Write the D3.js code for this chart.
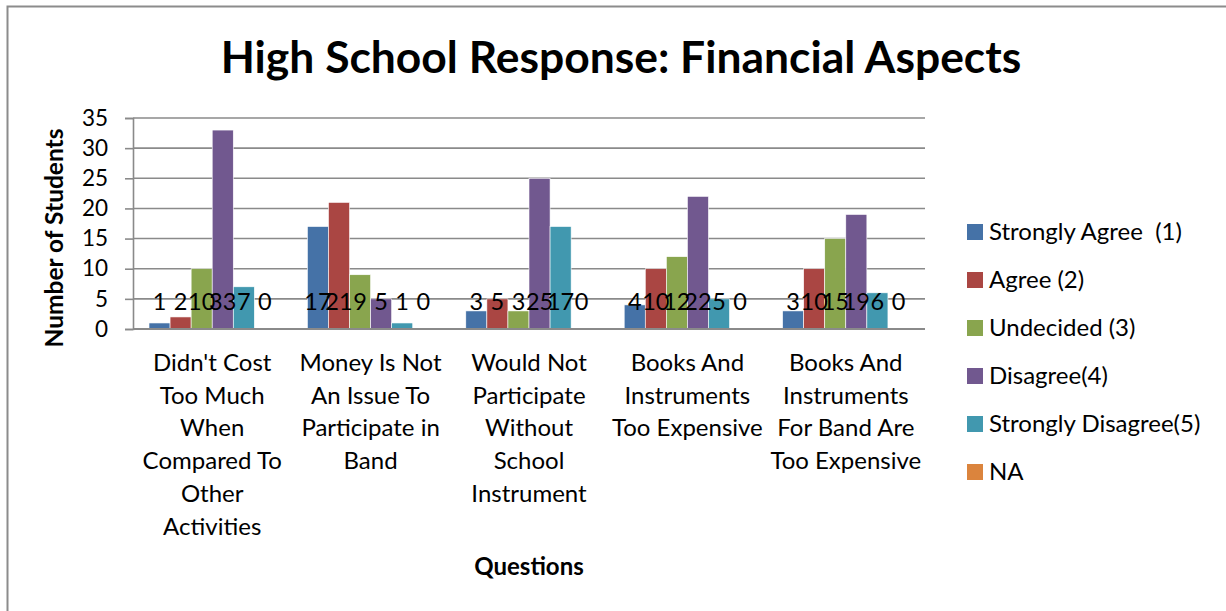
<!DOCTYPE html>
<html>
<head>
<meta charset="utf-8">
<script src="https://cdn.jsdelivr.net/npm/d3@7/dist/d3.min.js"></script>
<style>
  html, body { margin: 0; padding: 0; background: #fff; }
  svg { display: block; font-family: Lato, "Open Sans", sans-serif; }
</style>
</head>
<body>
<svg id="chart" width="1226" height="611"></svg>
<script>
// Survey questions (category labels, already broken into lines)
const questions = [
  ["Didn't Cost", "Too Much", "When", "Compared To", "Other", "Activities"],
  ["Money Is Not", "An Issue To", "Participate in", "Band"],
  ["Would Not", "Participate", "Without", "School", "Instrument"],
  ["Books And", "Instruments", "Too Expensive"],
  ["Books And", "Instruments", "For Band Are", "Too Expensive"]
];
const responses = ["Strongly Agree  (1)", "Agree (2)", "Undecided (3)", "Disagree(4)", "Strongly Disagree(5)", "NA"];
const stronglyAgree    = [1, 17, 3, 4, 3];
const agree            = [2, 21, 5, 10, 10];
const undecided        = [10, 9, 3, 12, 15];
const disagree         = [33, 5, 25, 22, 19];
const stronglyDisagree = [7, 1, 17, 5, 6];
const notAnswered      = [0, 0, 0, 0, 0];
const yTicks = [0, 5, 10, 15, 20, 25, 30, 35];

const seriesValues = [stronglyAgree, agree, undecided, disagree, stronglyDisagree, notAnswered];
const colors = ["#4572A7", "#AA4643", "#89A54E", "#71588F", "#4198AF", "#DB843D"];

const svg = d3.select("#chart");

// Chart frame
svg.append("rect")
  .attr("x", 7.5).attr("y", 6.5).attr("width", 1240).attr("height", 620)
  .attr("fill", "#fff").attr("stroke", "#8c8c8c").attr("stroke-width", 2);

const plot = { left: 133, right: 925, top: 118, bottom: 329 };

const x0 = d3.scaleBand().domain(d3.range(questions.length)).range([plot.left, plot.right]).padding(0);
const x1 = d3.scaleBand().domain(d3.range(responses.length))
  .range([16, x0.bandwidth() - 16]).padding(0);
const y = d3.scaleLinear().domain([0, 35]).range([plot.bottom, plot.top]);

// Horizontal gridlines
svg.append("g").selectAll("line").data(yTicks.filter(t => t > 0)).join("line")
  .attr("x1", plot.left).attr("x2", plot.right)
  .attr("y1", d => y(d)).attr("y2", d => y(d))
  .attr("stroke", "#8a8a8a").attr("stroke-width", 1.6);

// Y axis
const yAxis = svg.append("g").attr("transform", `translate(${plot.left},0)`)
  .call(d3.axisLeft(y).tickValues(yTicks).tickSize(8).tickPadding(17));
yAxis.select(".domain").attr("stroke", "#8a8a8a").attr("stroke-width", 1.6);
yAxis.selectAll(".tick line").attr("stroke", "#8a8a8a").attr("stroke-width", 1.6);
yAxis.selectAll(".tick text")
  .attr("font-family", "Lato, sans-serif").attr("font-size", 22.5).attr("fill", "#000");

// Bars
const groups = svg.append("g").selectAll("g").data(questions.map((q, i) => i)).join("g")
  .attr("transform", i => `translate(${x0(i)},0)`);

groups.selectAll("rect")
  .data(i => seriesValues.map((vals, s) => ({ s, v: vals[i] })))
  .join("rect")
  .attr("x", d => x1(d.s))
  .attr("width", x1.bandwidth())
  .attr("y", d => y(d.v))
  .attr("height", d => y(0) - y(d.v))
  .attr("fill", d => colors[d.s])
  .attr("stroke", "#fff").attr("stroke-width", 0.6);

// Value labels, all set on one line just above the axis
groups.selectAll("text")
  .data(i => seriesValues.map((vals, s) => ({ s, v: vals[i] })))
  .join("text")
  .attr("x", d => x1(d.s) + x1.bandwidth() / 2)
  .attr("y", y(0) - 19)
  .attr("text-anchor", "middle")
  .attr("font-size", 23.5)
  .attr("fill", "#000")
  .text(d => d.v);

// X axis baseline
svg.append("line")
  .attr("x1", plot.left).attr("x2", plot.right)
  .attr("y1", y(0)).attr("y2", y(0))
  .attr("stroke", "#8a8a8a").attr("stroke-width", 2);

// Category labels
const catLabels = svg.append("g").selectAll("text").data(questions).join("text")
  .attr("text-anchor", "middle")
  .attr("font-size", 24)
  .attr("fill", "#000");
catLabels.each(function(lines, i) {
  d3.select(this).selectAll("tspan").data(lines).join("tspan")
    .attr("x", x0(i) + x0.bandwidth() / 2)
    .attr("y", (d, k) => 371 + k * 32.7)
    .text(d => d);
});

// Title
svg.append("text")
  .attr("x", 621).attr("y", 73)
  .attr("text-anchor", "middle")
  .attr("font-size", 44.4).attr("font-weight", "bold")
  .attr("fill", "#000")
  .text("High School Response: Financial Aspects");

// Axis titles
svg.append("text")
  .attr("transform", "translate(63,238) rotate(-90)")
  .attr("text-anchor", "middle")
  .attr("font-size", 24.5).attr("font-weight", "bold")
  .text("Number of Students");

svg.append("text")
  .attr("x", 529).attr("y", 575)
  .attr("text-anchor", "middle")
  .attr("font-size", 24).attr("font-weight", "bold")
  .text("Questions");

// Legend
const legend = svg.append("g").selectAll("g").data(responses).join("g")
  .attr("transform", (d, i) => `translate(967,${232 + i * 48})`);
legend.append("rect")
  .attr("x", 0).attr("y", -8).attr("width", 16).attr("height", 16)
  .attr("fill", (d, i) => colors[i]);
legend.append("text")
  .attr("x", 22).attr("y", 8)
  .attr("font-size", 24)
  .attr("fill", "#000")
  .style("white-space", "pre")
  .attr("xml:space", "preserve")
  .text(d => d);
</script>
</body>
</html>
